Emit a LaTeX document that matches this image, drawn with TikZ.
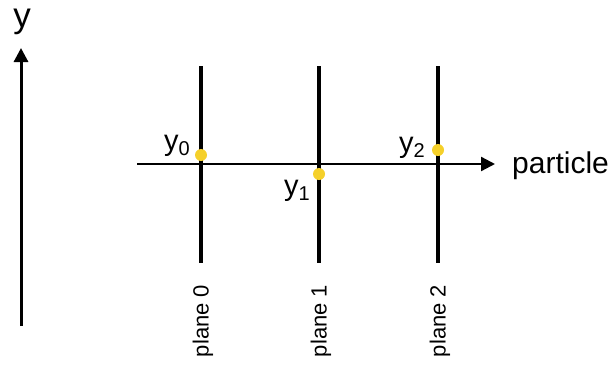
\documentclass[tikz,border=0pt]{standalone}
\usepackage{fontspec}
\setmainfont{Liberation Sans}
\usepackage{xcolor}
\usetikzlibrary{arrows.meta}
\definecolor{dotyellow}{RGB}{245,208,42}
\tikzset{>={Triangle[length=14pt,width=14pt]}}
\tikzset{
  plane line/.style={line width=3.4pt},
  track dot/.style={circle,fill=dotyellow,inner sep=0pt,minimum size=12pt},
  hit label/.style={font=\fontsize{29}{32}\selectfont,inner sep=0pt,anchor=base east},
  plane label/.style={rotate=90,font=\fontsize{22}{24}\selectfont,inner sep=0pt,anchor=center}
}
\newcommand{\hitsub}[1]{\raisebox{-0.2em}{\fontsize{20}{22}\selectfont #1}}

\begin{document}
\begin{tikzpicture}[x=1pt,y=-1pt]
    \useasboundingbox (0,0) rectangle (613,370);
    % y axis
    \coordinate (ybot) at (21,326);
    \coordinate (ytop) at (21,48);
    \draw[->,line width=3pt] (ybot)--(ytop);
    \node[font=\fontsize{35}{38}\selectfont,anchor=base,inner sep=0pt] (yaxis) at (22,27) {y};
    % particle direction
    \coordinate (pstart) at (137,164);
    \coordinate (pend) at (495,164);
    \draw[->,line width=2.3pt] (pstart)--(pend);
    \node[font=\fontsize{30}{32}\selectfont,anchor=base west,inner sep=0pt] (particle) at (512,173) {particle};
    % planes
    \foreach \i/\x in {0/201,1/319,2/438} {
        \coordinate (top\i) at (\x,66);
        \coordinate (bot\i) at (\x,263);
        \draw[plane line] (top\i)--(bot\i);
        \node[plane label] (plane\i) at (\x+2,321) {plane \i};
    }
    % hits
    \node[track dot] (hit0) at (201,155) {};
    \node[track dot] (hit1) at (319,174) {};
    \node[track dot] (hit2) at (438,150) {};
    \node[hit label] (y0) at (190,150) {y\hitsub{0}};
    \node[hit label] (y1) at (310,195) {y\hitsub{1}};
    \node[hit label] (y2) at (425,152) {y\hitsub{2}};
\end{tikzpicture}
\end{document}
